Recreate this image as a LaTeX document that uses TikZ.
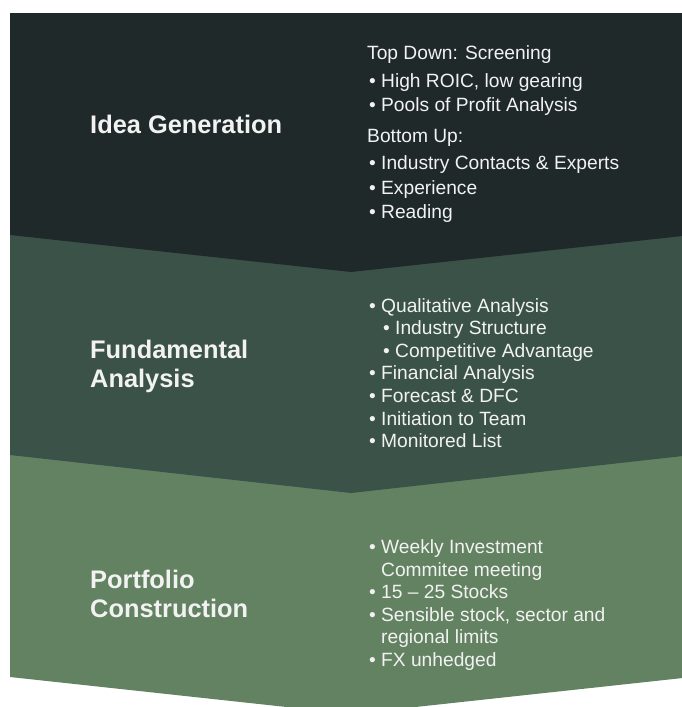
\documentclass[tikz,border=0pt]{standalone}
\usepackage{fontspec}
\setmainfont{Liberation Sans}
\definecolor{bandA}{HTML}{20292A}
\definecolor{bandB}{HTML}{3B5249}
\definecolor{bandC}{HTML}{638262}
\definecolor{txt}{HTML}{F2F2F2}
\newcommand{\bul}{\makebox[12pt][l]{•}}
\begin{document}
\begin{tikzpicture}[x=1pt,y=-1pt,
  line/.style={anchor=base west, inner sep=0pt, text=txt, font=\fontsize{19.2}{22}\selectfont},
  head/.style={anchor=base west, inner sep=0pt, text=txt, font=\bfseries\fontsize{25.4}{29}\selectfont}]
\useasboundingbox (0,0) rectangle (682,707);
\clip (0,0) rectangle (682,707);
% chevron bands, lowest first so each upper band overlaps the one below
\fill[bandC] (10,455) -- (692,455) -- (692,677) -- (351,714) -- (10,677) -- cycle;
\fill[bandB] (10,235) -- (692,235) -- (692,455) -- (351,493) -- (10,455) -- cycle;
\fill[bandA] (10,13) -- (692,13) -- (692,235) -- (351,272) -- (10,235) -- cycle;

% Idea Generation
\node[head] (h1) at (90,133) {Idea Generation};
\node[line] (a1) at (367,59) {Top Down: Screening};
\node[line] (a2) at (369,87) {\bul High ROIC, low gearing};
\node[line] (a3) at (369,111) {\bul Pools of Profit Analysis};
\node[line] (a4) at (367,142) {Bottom Up:};
\node[line] (a5) at (369,169) {\bul Industry Contacts \& Experts};
\node[line] (a6) at (369,194) {\bul Experience};
\node[line] (a7) at (369,218) {\bul Reading};

% Fundamental Analysis
\node[head] (h2a) at (90,358) {Fundamental};
\node[head] (h2b) at (90,387) {Analysis};
\node[line] (b1) at (369,312) {\bul Qualitative Analysis};
\node[line] (b2) at (383,334) {\bul Industry Structure};
\node[line] (b3) at (383,357) {\bul Competitive Advantage};
\node[line] (b4) at (369,379) {\bul Financial Analysis};
\node[line] (b5) at (369,402) {\bul Forecast \& DFC};
\node[line] (b6) at (369,425) {\bul Initiation to Team};
\node[line] (b7) at (369,447) {\bul Monitored List};

% Portfolio Construction
\node[head] (h3a) at (90,588) {Portfolio};
\node[head] (h3b) at (90,617) {Construction};
\node[line] (c1) at (369,553) {\bul Weekly Investment};
\node[line] (c2) at (381,576) {Commitee meeting};
\node[line] (c3) at (369,598) {\bul 15 – 25 Stocks};
\node[line] (c4) at (369,621) {\bul Sensible stock, sector and};
\node[line] (c5) at (381,643) {regional limits};
\node[line] (c6) at (369,666) {\bul FX unhedged};
\end{tikzpicture}
\end{document}
